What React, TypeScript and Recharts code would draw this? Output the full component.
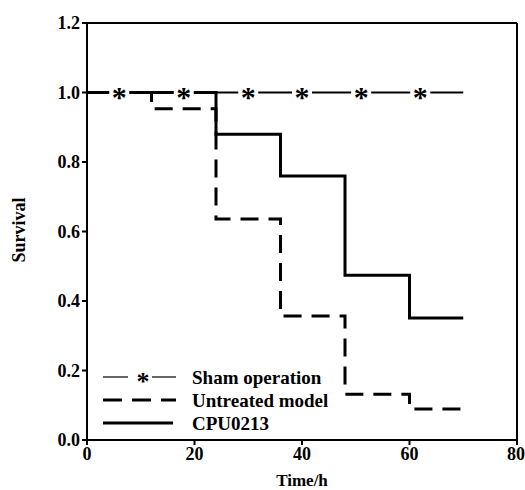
import React from 'react';
import { ComposedChart, Line, XAxis, YAxis, ReferenceLine, Legend } from 'recharts';

const FONT = '"Liberation Serif", "Times New Roman", serif';

const xTicks = [0, 20, 40, 60, 80];
const yTicks = [0, 0.2, 0.4, 0.6, 0.8, 1.0, 1.2];

const shamTimes = [0, 6, 18, 30, 40, 51, 62, 70];
const shamSurvival = [1, 1, 1, 1, 1, 1, 1, 1];
const shamMarked = [false, true, true, true, true, true, true, false];

const untreatedTimes = [0, 12, 24, 36, 48, 60, 70];
const untreatedSurvival = [1, 0.953, 0.636, 0.357, 0.132, 0.089, 0.089];

const cpuTimes = [0, 24, 36, 48, 60, 70];
const cpuSurvival = [1, 0.88, 0.76, 0.474, 0.351, 0.351];

const seriesNames = ['Sham operation', 'Untreated model', 'CPU0213'];

const shamData = shamTimes.map((t, i) => ({ t, v: shamSurvival[i], mark: shamMarked[i] }));
const untreatedData = untreatedTimes.map((t, i) => ({ t, v: untreatedSurvival[i] }));
const cpuData = cpuTimes.map((t, i) => ({ t, v: cpuSurvival[i] }));

const StarDot = (props: any) => {
  const { cx, cy, payload, index } = props;
  if (!payload || !payload.mark) return <g key={`s-${index}`} />;
  return (
    <g key={`s-${index}`}>
      <rect x={cx - 10} y={cy - 5} width={20} height={10} fill="#fff" />
      <text x={cx} y={cy + 14} textAnchor="middle" fontFamily={FONT} fontWeight="bold" fontSize={30} fill="#000">*</text>
    </g>
  );
};

const LegendContent = () => (
  <svg width={260} height={75} style={{ display: 'block' }}>
    <line x1={0} y1={12} x2={25} y2={12} stroke="#000" strokeWidth={1.2} />
    <text x={40} y={25} textAnchor="middle" fontFamily={FONT} fontWeight="bold" fontSize={26} fill="#000">*</text>
    <line x1={49} y1={12} x2={73} y2={12} stroke="#000" strokeWidth={1.2} />
    <line x1={0} y1={35} x2={73} y2={35} stroke="#000" strokeWidth={3} strokeDasharray="19 10" />
    <line x1={0} y1={58} x2={70} y2={58} stroke="#000" strokeWidth={3} />
    {seriesNames.map((n, i) => (
      <text key={n} x={89} y={12 + i * 23} dominantBaseline="central" fontFamily={FONT} fontWeight="bold" fontSize={19} fill="#000">{n}</text>
    ))}
  </svg>
);

const tickStyle = { fill: '#000', fontSize: 18, fontWeight: 'bold', fontFamily: FONT };

export default function App() {
  return (
    <div style={{ position: 'absolute', left: 0, top: 0, width: 525, height: 490, background: '#fff', overflow: 'hidden' }}>
      <ComposedChart width={525} height={490} margin={{ top: 23, right: 8, bottom: 0, left: 0 }}>
        <XAxis
          type="number"
          dataKey="t"
          domain={[0, 80]}
          ticks={xTicks}
          allowDataOverflow
          stroke="#000"
          strokeWidth={2}
          tickSize={5}
          tick={tickStyle}
          height={50}
          label={{
            content: () => (
              <text x={302} y={486} textAnchor="middle" fontFamily={FONT} fontWeight="bold" fontSize={17} fill="#000">Time/h</text>
            ),
          }}
        />
        <YAxis
          type="number"
          dataKey="v"
          domain={[0, 1.2]}
          ticks={yTicks}
          allowDataOverflow
          width={87}
          stroke="#000"
          strokeWidth={2}
          tickSize={5}
          tick={tickStyle}
          tickFormatter={(v: number) => v.toFixed(1)}
          label={{
            content: () => (
              <text x={19} y={230} transform="rotate(-90 19 230)" textAnchor="middle" dominantBaseline="central" fontFamily={FONT} fontWeight="bold" fontSize={18} fill="#000">Survival</text>
            ),
          }}
        />
        <ReferenceLine y={1.2} stroke="#000" strokeWidth={2} />
        <ReferenceLine x={80} stroke="#000" strokeWidth={2} />
        <Line data={untreatedData} dataKey="v" type="stepAfter" stroke="#000" strokeWidth={3} strokeDasharray="18 10" dot={false} isAnimationActive={false} name={seriesNames[1]} />
        <Line data={cpuData} dataKey="v" type="stepAfter" stroke="#000" strokeWidth={3} dot={false} isAnimationActive={false} name={seriesNames[2]} />
        <Line data={shamData} dataKey="v" type="stepAfter" stroke="#000" strokeWidth={2} dot={StarDot} activeDot={false} isAnimationActive={false} name={seriesNames[0]} />
        <Legend
          layout="horizontal"
          verticalAlign="middle"
          align="center"
          content={LegendContent}
          wrapperStyle={{ position: 'absolute', left: 103, top: 365, width: 260, height: 75 }}
        />
      </ComposedChart>
    </div>
  );
}
